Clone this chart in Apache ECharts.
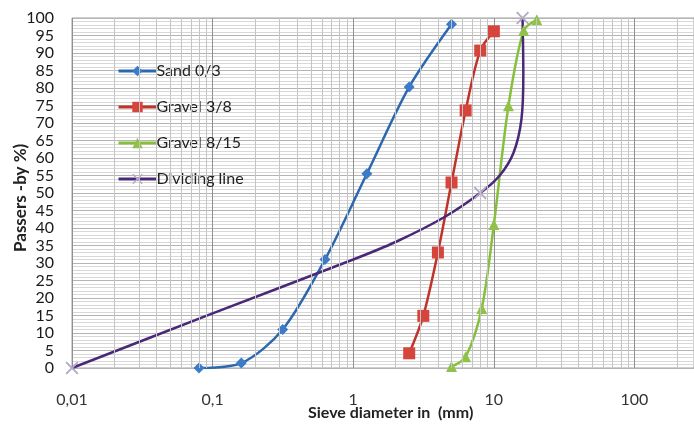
<!DOCTYPE html>
<html><head><meta charset="utf-8">
<script src="https://cdn.jsdelivr.net/npm/echarts@6/dist/echarts.min.js"></script>
<style>html,body{margin:0;padding:0;background:#fff}#c{width:694px;height:425px}</style>
</head><body><div id="c"></div>
<script>
// Data
const xTickLabels = ['0,01', '0,1', '1', '10', '100'];
const sandX = [0.08, 0.16, 0.315, 0.63, 1.25, 2.5, 5];
const sandY = [0, 1.4, 11, 31, 55.5, 80.3, 98.2];
const gravel38X = [2.5, 3.15, 4, 5, 6.3, 8, 10];
const gravel38Y = [4.2, 14.9, 33, 53, 73.6, 90.7, 96.2];
const gravel815X = [5, 6.3, 8.2, 10, 12.7, 16.3, 20.2];
const gravel815Y = [0.4, 3.2, 17, 41, 74.9, 96.4, 99.5];
const dividingX = [0.01, 0.1, 1, 2, 4.4, 8, 11, 13.8, 15.7, 16.2, 16];
const dividingY = [0, 15.6, 31, 36, 43, 50, 55, 61.5, 71, 84, 100];
const dividingMarkerX = [0.01, 8, 16];

const zip = (xs, ys) => xs.map((x, i) => [x, ys[i]]);
const font = 'Lato, "Open Sans", sans-serif';
const X_MIN = 0.01, X_MAX = 265;

const minorLines = [];
for (let e = -2; e <= 2; e++) {
  for (let k = 2; k <= 9; k++) {
    const v = k * Math.pow(10, e);
    if (v < X_MAX) minorLines.push({ xAxis: v });
  }
}

const chart = echarts.init(document.getElementById('c'), null, { renderer: 'canvas' });
chart.setOption({
  animation: false,
  backgroundColor: '#fff',
  grid: { left: 72, top: 18, right: 0, height: 350, show: true, borderColor: '#a0a0a0', borderWidth: 1, backgroundColor: '#fff' },
  legend: {
    orient: 'vertical', left: 112, top: 58, itemWidth: 38, itemHeight: 13, itemGap: 20,
    data: ['Sand 0/3', 'Gravel 3/8', 'Gravel 8/15', 'Dividing line'],
    lineStyle: { width: 3 },
    textStyle: { fontFamily: font, fontSize: 16, color: '#222', padding: [0, 0, 0, -5] },
    backgroundColor: 'transparent'
  },
  xAxis: {
    type: 'log', logBase: 10, min: X_MIN, max: X_MAX,
    axisLine: { show: false }, axisTick: { show: false },
    axisLabel: {
      margin: 24, fontFamily: font, fontSize: 16, color: '#333', showMaxLabel: false,
      formatter: v => {
        const l = Math.log10(v);
        if (Math.abs(l - Math.round(l)) > 1e-6) return '';
        const i = Math.round(l) + 2;
        return xTickLabels[i] !== undefined ? xTickLabels[i] : '';
      }
    },
    splitLine: { show: true, lineStyle: { color: '#909090', width: 1 } }
  },
  yAxis: {
    type: 'value', min: 0, max: 100, interval: 5,
    axisLine: { show: false }, axisTick: { show: false },
    axisLabel: { margin: 18, fontFamily: font, fontSize: 16, color: '#1a1a1a' },
    splitLine: { show: true, lineStyle: { color: '#b4b4b4', width: 1 } },
    minorTick: { show: false, splitNumber: 5 },
    minorSplitLine: { show: true, lineStyle: { color: '#d8d8d8', width: 1 } }
  },
  graphic: [
    { type: 'text', left: 308, top: 405, style: { text: 'Sieve diameter in  (mm)', font: 'bold 16px ' + font, fill: '#222' } },
    { type: 'text', x: 12, y: 252, rotation: Math.PI / 2, style: { text: 'Passers -by %)', font: 'bold 17px ' + font, fill: '#222' } }
  ],
  series: [
    {
      name: 'minor-grid', type: 'line', data: [], z: 1, silent: true,
      markLine: { silent: true, symbol: 'none', label: { show: false }, animation: false,
        lineStyle: { color: '#c4c4c4', width: 1, type: 'solid' }, data: minorLines }
    },
    {
      name: 'Sand 0/3', type: 'line', smooth: 0.3, data: zip(sandX, sandY),
      symbol: 'diamond', symbolSize: 11,
      lineStyle: { color: '#2c68ad', width: 2.5 }, itemStyle: { color: '#3b7bc8' }
    },
    {
      name: 'Gravel 3/8', type: 'line', smooth: 0.3, data: zip(gravel38X, gravel38Y),
      symbol: 'rect', symbolSize: 12,
      lineStyle: { color: '#c0332b', width: 2.5 }, itemStyle: { color: '#d5453c' }
    },
    {
      name: 'Gravel 8/15', type: 'line', smooth: 0.3, data: zip(gravel815X, gravel815Y),
      symbol: 'triangle', symbolSize: 11,
      lineStyle: { color: '#86bf3c', width: 2.5 }, itemStyle: { color: '#90c24a' }
    },
    {
      name: 'Dividing line', type: 'line', smooth: 0.3,
      data: zip(dividingX, dividingY).map(p => dividingMarkerX.includes(p[0]) ? { value: p } : { value: p, symbol: 'none' }),
      symbol: 'path://M0,1L1,0L5,4L9,0L10,1L6,5L10,9L9,10L5,6L1,10L0,9L4,5Z', symbolSize: 13,
      lineStyle: { color: '#4a2878', width: 2.5 }, itemStyle: { color: '#b3a8c6' }
    }
  ]
});
</script></body></html>
